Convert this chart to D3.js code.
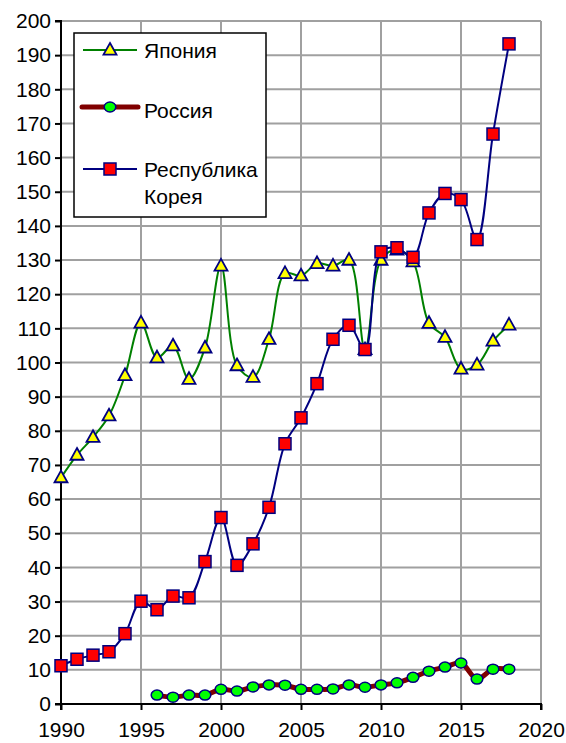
<!DOCTYPE html>
<html><head><meta charset="utf-8">
<script src="https://cdn.jsdelivr.net/npm/d3@7"></script>
<style>body{margin:0;background:#fff}svg{display:block}text{font-family:"Liberation Sans",Arial,sans-serif}</style>
</head><body>
<script>
const years = d3.range(1990, 2019);
const japan = [66.3,72.9,78.1,84.4,96.2,111.6,101.4,104.9,95.1,104.3,128.3,99.1,95.7,106.8,126.1,125.4,129,128.3,130,103.8,130,133,129.5,111.5,107.4,98.1,99.3,106.3,111];
const korea = [11.2,13.1,14.3,15.3,20.6,30.1,27.6,31.6,31.1,41.7,54.6,40.6,46.9,57.6,76.2,83.8,93.8,106.8,110.9,103.8,132.4,133.6,130.8,143.8,149.5,147.7,136,166.9,193.3];
const russiaYears = d3.range(1996, 2019);
const russia = [2.6,2.0,2.6,2.6,4.3,3.8,5.0,5.6,5.5,4.3,4.3,4.4,5.6,4.9,5.6,6.2,7.8,9.6,10.8,12.0,7.3,10.2,10.2];
const xTicks = [1990,1995,2000,2005,2010,2015,2020];
const yTicks = d3.range(0, 201, 10);
const legendLabels = [["Япония"],["Россия"],["Республика","Корея"]];

const W=566,H=743;
const svg=d3.select("body").append("svg").attr("width",W).attr("height",H);
const x=d3.scaleLinear().domain([1990,2020]).range([61,541]);
const y=d3.scaleLinear().domain([0,200]).range([704,21]);
const grid="#a0a0a0";
const FS=21;

// gridlines
svg.append("g").selectAll("line").data(yTicks.filter(d=>d>0)).join("line")
  .attr("x1",x(1990)).attr("x2",x(2020)).attr("y1",d=>y(d)).attr("y2",d=>y(d))
  .attr("stroke",grid).attr("stroke-width",2);
svg.append("g").selectAll("line").data(xTicks.filter(d=>d>1990)).join("line")
  .attr("x1",d=>x(d)).attr("x2",d=>x(d)).attr("y1",y(0)).attr("y2",y(200))
  .attr("stroke",grid).attr("stroke-width",2);

// axes
const yAxis=svg.append("g").attr("transform",`translate(${x(1990)},0)`)
  .call(d3.axisLeft(y).tickValues(yTicks).tickSize(6).tickPadding(4).tickFormat(d3.format("d")));
const xAxis=svg.append("g").attr("transform",`translate(0,${y(0)})`)
  .call(d3.axisBottom(x).tickValues(xTicks).tickSize(6).tickPadding(12).tickFormat(d3.format("d")));
[yAxis,xAxis].forEach(a=>{
  a.select(".domain").attr("stroke","#000").attr("stroke-width",2);
  a.selectAll(".tick line").attr("stroke","#000").attr("stroke-width",2);
  a.selectAll("text").attr("fill","#000").attr("font-size",FS).attr("font-family","Liberation Sans, Arial, sans-serif");
});
yAxis.select(".domain").attr("d",`M-6,${y(0)}H0V${y(200)}H-6`);
xAxis.select(".domain").attr("d",`M${x(1990)},6V0H${x(2020)}V6`);

const curve=d3.curveCatmullRom.alpha(0.5);
function triPath(cx,cy,s){const h=s*0.9;return `M${cx},${cy-h*0.6}L${cx+s/2},${cy+h*0.4}L${cx-s/2},${cy+h*0.4}Z`;}
const TS=13, SQ=12;

// Japan
const jd=years.map((yr,i)=>[yr,japan[i]]);
svg.append("path").datum(jd).attr("fill","none").attr("stroke","#008000").attr("stroke-width",2)
  .attr("d",d3.line().x(d=>x(d[0])).y(d=>y(d[1])).curve(curve));
svg.append("g").selectAll("path").data(jd).join("path")
  .attr("d",d=>triPath(x(d[0]),y(d[1]),TS)).attr("fill","#ffff00").attr("stroke","#000080").attr("stroke-width",1.8);

// Russia
const rd=russiaYears.map((yr,i)=>[yr,russia[i]]);
svg.append("path").datum(rd).attr("fill","none").attr("stroke","#800000").attr("stroke-width",5)
  .attr("d",d3.line().x(d=>x(d[0])).y(d=>y(d[1])).curve(curve));
svg.append("g").selectAll("ellipse").data(rd).join("ellipse")
  .attr("cx",d=>x(d[0])).attr("cy",d=>y(d[1])).attr("rx",5.8).attr("ry",5)
  .attr("fill","#00ff00").attr("stroke","#000080").attr("stroke-width",1.5);

// Korea
const kd=years.map((yr,i)=>[yr,korea[i]]);
svg.append("path").datum(kd).attr("fill","none").attr("stroke","#000080").attr("stroke-width",2)
  .attr("d",d3.line().x(d=>x(d[0])).y(d=>y(d[1])).curve(curve));
svg.append("g").selectAll("rect").data(kd).join("rect")
  .attr("x",d=>x(d[0])-SQ/2).attr("y",d=>y(d[1])-SQ/2).attr("width",SQ).attr("height",SQ)
  .attr("fill","#ff0000").attr("stroke","#000080").attr("stroke-width",1.5);

// legend
const lg=svg.append("g");
lg.append("rect").attr("x",74).attr("y",33).attr("width",192).attr("height",184)
  .attr("fill","#fff").attr("stroke","#000").attr("stroke-width",1.5);
const ly=[50,107,169];
lg.append("line").attr("x1",83).attr("x2",137).attr("y1",ly[0]).attr("y2",ly[0]).attr("stroke","#008000").attr("stroke-width",2);
lg.append("path").attr("d",triPath(110,ly[0],TS)).attr("fill","#ffff00").attr("stroke","#000080").attr("stroke-width",1.8);
lg.append("line").attr("x1",82).attr("x2",138).attr("y1",ly[1]).attr("y2",ly[1]).attr("stroke","#800000").attr("stroke-width",5).attr("stroke-linecap","round");
lg.append("ellipse").attr("cx",110).attr("cy",ly[1]).attr("rx",5.8).attr("ry",5).attr("fill","#00ff00").attr("stroke","#000080").attr("stroke-width",1.5);
lg.append("line").attr("x1",83).attr("x2",137).attr("y1",ly[2]).attr("y2",ly[2]).attr("stroke","#000080").attr("stroke-width",2);
lg.append("rect").attr("x",110-SQ/2).attr("y",ly[2]-SQ/2).attr("width",SQ).attr("height",SQ).attr("fill","#ff0000").attr("stroke","#000080").attr("stroke-width",1.5);
const tb=[[58],[118],[177,204]];
legendLabels.forEach((lines,i)=>lines.forEach((t,j)=>{
  lg.append("text").attr("x",144).attr("y",tb[i][j]).attr("font-size",FS).attr("fill","#000").text(t);
}));
</script>
</body></html>
